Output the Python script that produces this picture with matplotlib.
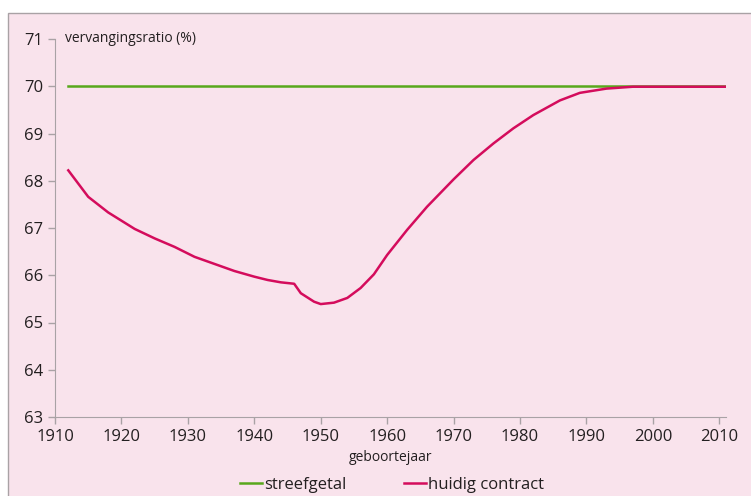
import matplotlib
matplotlib.use("Agg")
import matplotlib.pyplot as plt
from matplotlib.patches import Rectangle

# geboortejaar en vervangingsratio (%)
years = [1912, 1915, 1918, 1922, 1925, 1928, 1931, 1934, 1937, 1940,
         1942, 1944, 1946, 1947, 1949, 1950, 1952, 1954, 1956, 1958,
         1960, 1963, 1966, 1970, 1973, 1976, 1979, 1982, 1986, 1989,
         1993, 1997, 2000, 2005, 2011]
huidig = [68.22, 67.66, 67.33, 66.98, 66.78, 66.60, 66.39, 66.24, 66.09, 65.97,
          65.90, 65.85, 65.82, 65.62, 65.44, 65.39, 65.42, 65.52, 65.73, 66.02,
          66.43, 66.96, 67.45, 68.03, 68.44, 68.79, 69.11, 69.39, 69.70, 69.86,
          69.95, 69.99, 69.99, 69.99, 69.99]
streef_years = [1912, 2011]
streef = [70.0, 70.0]

xticks = list(range(1910, 2011, 10))
yticks = list(range(63, 72))

BG = "#f9e3ec"
GREEN = "#58a81c"
MAGENTA = "#d40c5c"
GREY = "#a9a2a5"

plt.rcParams["font.family"] = ["Open Sans", "DejaVu Sans"]

fig = plt.figure(figsize=(7.51, 4.96), dpi=100)
fig.patch.set_facecolor("white")
bg = Rectangle((8 / 751, -0.02), 1.0, 1 - 13 / 496 + 0.02,
               transform=fig.transFigure, facecolor=BG,
               edgecolor=GREY, lw=1.0, zorder=-10)
fig.add_artist(bg)

ax = fig.add_axes([55 / 751, 1 - 417 / 496, (726 - 55) / 751, (417 - 39) / 496])
ax.set_facecolor("none")

ax.plot(streef_years, streef, color=GREEN, lw=1.8, label="streefgetal")
ax.plot(years, huidig, color=MAGENTA, lw=1.8, label="huidig contract")

ax.set_xlim(1910, 2011)
ax.set_ylim(63, 71)
ax.set_xticks(xticks)
ax.set_yticks(yticks)
ax.tick_params(colors=GREY, labelcolor="#231f20", labelsize=12, length=5, width=1)
for s in ["top", "right"]:
    ax.spines[s].set_visible(False)
for s in ["left", "bottom"]:
    ax.spines[s].set_color(GREY)

ax.text(1911.5, 71, "vervangingsratio (%)", va="center", ha="left",
        fontsize=10, color="#231f20")
ax.set_xlabel("geboortejaar", fontsize=10, color="#231f20", labelpad=4)

fig.legend(loc="center", bbox_to_anchor=(392 / 751, 1 - 485 / 496), ncol=2,
           frameon=False, fontsize=12, handlelength=1.3, handletextpad=0.1,
           columnspacing=3.5, labelcolor="#231f20")

fig.savefig("out.png", dpi=100, facecolor=fig.get_facecolor())
